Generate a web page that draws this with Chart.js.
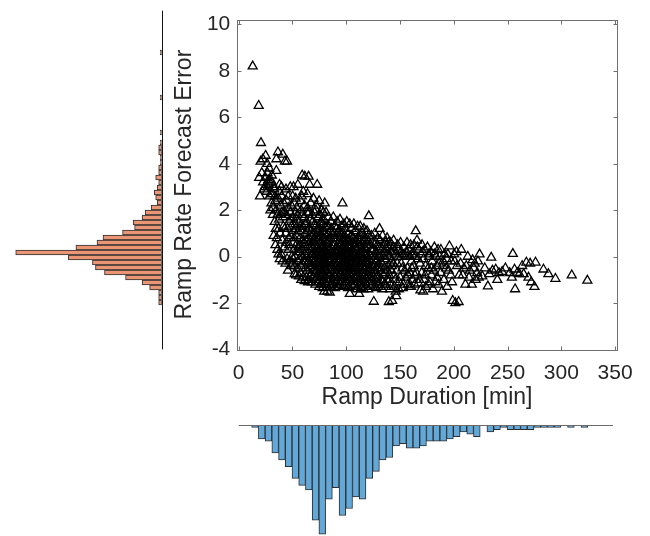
<!DOCTYPE html>
<html><head><meta charset="utf-8">
<script src="https://cdn.jsdelivr.net/npm/chart.js@4.4.1/dist/chart.umd.min.js"></script>
<style>
html,body{margin:0;padding:0;background:#fff;}
#wrap{position:relative;width:650px;height:536px;overflow:hidden;}
#wrap canvas{position:absolute;left:0;top:0;}
</style></head>
<body><div id="wrap">
<canvas id="leftHist" width="650" height="536"></canvas>
<canvas id="bottomHist" width="650" height="536"></canvas>
<canvas id="scatter" width="650" height="536"></canvas>
</div>
<script>
// ---------- data ----------
const xTicks = [0, 50, 100, 150, 200, 250, 300, 350];
const yTicks = [-4, -2, 0, 2, 4, 6, 8, 10];
const xTitle = 'Ramp Duration [min]';
const yTitle = 'Ramp Rate Forecast Error';

// scatter: [ramp duration (min), ramp rate forecast error]
const rampPoints = [
 [13,8.2],
 [18.6,6.5],[20.7,4.9],[20.4,4.1],[22.5,4.2],[19.8,2.6],[22.7,3.2],[19,3.4],
 [25,4.35],[28.4,3.8],[26.5,4.0],[27,3.0],[29,3.3],[26,2.8],[30,2.7],[28,3.1],[24.8,3.4],
 [31,3.2],[33,2.9],[35,3.7],[36.5,4.5],[35,4.2],[34,2.4],[32,2.1],[36,1.8],[33.5,1.5],[35.5,0.8],[36,0.3],[34.5,1.2],[31.5,2.7],
 [41,4.4],[43,4.1],[38,3.1],[40,2.6],[39,2.2],[42,1.9],[37.5,1.6],[41.5,1.3],[38.5,1.0],[40.5,0.7],[42.5,0.4],[39.5,0.1],[37.8,2.8],[42,2.3],[41,1.7],
 [45,4.1],[44,2.9],[48,3.0],[46,2.6],[49,2.2],[44.5,1.8],[47,1.5],[45.5,1.2],[48.5,0.9],[44,0.6],[46.5,0.3],[49.5,0.0],[47.5,-0.2],[45,-0.1],[48,1.9],[46,2.1],[49,1.3],[43.8,1.0],[47,0.5],
 [52,-0.75],[51,3.0],[53,2.5],[55,3.1],[54,2.1],[50.5,1.7],[52.5,1.4],[55.5,1.1],[51.5,0.8],[53.5,0.5],[54.5,0.2],[50.5,-0.1],[52,-0.4],[55,-0.5],[53,1.9],[51,1.1],[54,0.9],[55.5,0.4],[52.5,0.0],[50.8,0.6],[53.8,1.6],[55,-0.2],[51.8,2.3],
 [57.5,2.4],[59,3.5],[61.5,3.45],[60,2.8],[58,2.0],[61,1.7],[56.5,1.5],[59.5,1.3],[62,1.0],[57,0.8],[60.5,0.6],[58.5,0.3],[61.5,0.1],[56.5,-0.1],[59,-0.3],[62,-0.5],[57.5,-0.7],[60,-0.9],[58,1.1],[61,0.4],[59.5,0.0],[56.8,0.5],[60.8,-0.2],[58.8,1.8],[57.8,-0.4],[61.8,1.4],
 [63,-0.9],[66,3.1],[65,3.45],[64,2.7],[67,2.3],[63.5,1.9],[66.5,1.6],[62.5,1.4],[65.5,1.2],[67.5,0.9],[63,0.7],[64.5,0.5],[66,0.3],[67.8,0.1],[62.8,0.0],[65,-0.2],[67,-0.4],[63.8,-0.6],[66.5,-0.8],[64.8,-1.0],[62.5,0.2],[65.8,0.6],[67.2,1.1],[63.2,1.5],[64.2,-0.3],[66.8,-0.1],[65.2,0.8],[64,2.1],
 [73,3.1],[69.5,2.5],[72,2.2],[70.5,1.9],[74,1.7],[68.8,1.5],[71.5,1.3],[73.5,1.2],[69.8,1.0],[72.6,0.9],[70.2,0.8],[74.3,0.7],[68.6,0.6],[71.2,0.5],[73.2,0.4],[69.3,0.4],[72.3,0.3],[70.7,0.2],[74.1,0.2],[68.9,0.1],[71.8,0.1],[73.7,0.0],[70,0.0],[72.9,0.0],[69.1,-0.1],[71.4,-0.1],[74.4,-0.2],[70.4,-0.2],[72.1,-0.3],[68.7,-0.4],[73.4,-0.4],[71,-0.5],[69.6,-0.6],[72.8,-0.6],[70.9,-0.7],[74.2,-0.8],[69.2,-0.9],[71.7,-1.0],[73.9,-1.1],[70.3,0.6],[72.4,1.1],
 [74.8,2.4],[80,2.3],[77,2.0],[75.5,1.8],[79,1.6],[76.3,1.5],[78.2,1.4],[80.4,1.3],[75.2,1.2],[77.6,1.1],[79.6,1.0],[76,0.9],[78.8,0.8],[80.6,0.7],[75.8,0.6],[77.3,0.6],[79.3,0.5],[76.7,0.4],[78.5,0.4],[80.2,0.3],[75.4,0.3],[77.9,0.2],[79.8,0.2],[76.2,0.1],[78,0.1],[80.7,0.0],[75,0.0],[77.1,0.0],[79.1,0.0],[76.5,-0.1],[78.6,-0.1],[80.1,-0.2],[75.6,-0.2],[77.5,-0.3],[79.4,-0.3],[76.9,-0.4],[78.3,-0.5],[80.5,-0.6],[75.3,-0.6],[77.8,-0.7],[79.7,-0.8],[76.1,-0.9],[78.9,-1.0],[80.3,-1.1],[77.2,-1.2],[79.5,-1.5],[76.6,-0.5],
 [81.2,1.9],[83.5,1.7],[85.8,1.5],[82.3,1.3],[86.5,1.2],[84,1.0],[81.7,0.9],[85.2,0.8],[83,0.6],[86.9,0.5],[82,0.4],[84.6,0.3],[86.1,0.2],[81.4,0.1],[83.8,0.1],[85.5,0.0],[82.7,0.0],[86.7,-0.1],[84.3,-0.2],[81.9,-0.3],[85.9,-0.4],[83.2,-0.5],[86.3,-0.6],[82.5,-0.7],[84.9,-0.8],[81.1,-0.9],[85.1,-1.0],[83.6,-1.1],[86,-1.2],[82.1,-1.3],[82.4,-1.5],[84.7,-1.55],
 [88,1.7],[91.5,1.5],[89.3,1.3],[92.8,1.1],[87.6,0.9],[90.4,0.8],[93,0.6],[88.7,0.5],[91.1,0.4],[89.9,0.3],[92.3,0.2],[87.9,0.1],[90.8,0.1],[92.6,0.0],[88.4,0.0],[91.8,-0.1],[89.5,-0.2],[87.4,-0.3],[90.2,-0.4],[92.1,-0.5],[88.9,-0.6],[91.3,-0.7],[89.1,-0.8],[92.9,-0.9],[87.8,-1.0],[90.6,-1.1],[88.2,-1.2],[91.9,-1.3],
 [96.5,2.3],[94.2,1.6],[97.8,1.4],[95.5,1.3],[99,1.2],[93.8,1.1],[96.9,1.0],[98.5,0.9],[94.7,0.8],[97.2,0.7],[99.3,0.6],[95.1,0.5],[98,0.5],[93.6,0.4],[96.2,0.3],[98.8,0.3],[94.9,0.2],[97.5,0.1],[99.5,0.1],[95.8,0.0],[93.9,0.0],[97,0.0],[98.3,-0.1],[94.4,-0.1],[96.7,-0.2],[99.1,-0.3],[95.3,-0.3],[97.7,-0.4],[93.5,-0.5],[96,-0.6],[98.6,-0.7],[94.6,-0.8],[97.3,-0.9],[99.4,-1.0],[95.7,-1.1],[94.1,-1.2],[98.1,-1.3],[96.4,-0.4],[95,0.6],[97.9,-0.2],
 [100.5,1.5],[103.2,1.4],[105,1.2],[101.6,1.0],[104.3,0.9],[99.9,0.8],[102.7,0.7],[105.5,0.6],[101,0.5],[103.8,0.4],[100.3,0.3],[102.2,0.2],[104.8,0.2],[101.4,0.1],[103.5,0.0],[105.2,0.0],[100.1,0.0],[102.9,-0.1],[104.5,-0.2],[101.9,-0.3],[100.7,-0.4],[103.1,-0.5],[105.7,-0.6],[102.4,-0.7],[104,-0.8],[101.2,-0.9],[103.6,-1.0],[100,-1.1],[105.3,-1.2],[102,-1.3],[103.3,-1.6],[104.6,-0.3],[101.8,0.4],[100.9,-0.6],[104.2,0.1],[102.6,-0.2],
 [107,1.4],[110.5,1.3],[108.4,1.1],[111.6,0.9],[106.3,0.8],[109.2,0.7],[111.1,0.5],[107.6,0.4],[110,0.3],[106.8,0.2],[108.9,0.1],[111.9,0.1],[107.3,0.0],[109.7,0.0],[110.8,-0.1],[106.1,-0.2],[108.2,-0.3],[111.3,-0.4],[109.4,-0.5],[107.8,-0.6],[110.2,-0.7],[106.6,-0.8],[108.7,-0.9],[111.5,-1.0],[109.9,-1.1],[107.1,-1.2],[110.7,-1.3],[112,-1.6],[108,0.5],[109,-0.2],[106.9,-0.4],
 [113,1.3],[116.4,1.2],[114.7,1.0],[117.8,0.8],[112.6,0.7],[115.5,0.6],[117.2,0.4],[113.9,0.3],[116.1,0.2],[112.3,0.1],[114.4,0.1],[117.6,0.0],[115.1,0.0],[113.4,-0.1],[116.8,-0.1],[118.1,-0.2],[114.1,-0.3],[115.8,-0.4],[112.9,-0.5],[117,-0.6],[114.9,-0.7],[116.5,-0.8],[113.6,-0.9],[115.3,-1.0],[117.4,-1.1],[112.4,-1.2],[114.3,-1.3],[116.2,-1.4],[113.2,0.5],[115,-0.2],[117.9,-0.4],[116.6,0.4],
 [121,1.75],[119.3,1.1],[123.5,0.9],[120.4,0.7],[122.7,0.5],[118.8,0.3],[124.1,0.2],[121.6,0.1],[119.9,0.0],[123,0.0],[120.8,-0.1],[122.2,-0.2],[118.6,-0.3],[124.4,-0.4],[121.3,-0.5],[119.6,-0.6],[123.7,-0.7],[120.1,-0.8],[122.5,-0.9],[118.9,-1.0],[121.9,-1.1],[124,-1.2],[120.5,-1.4],
 [125.6,-1.94],[126.5,1.0],[129.3,0.8],[127.7,0.6],[130.4,0.4],[125.2,0.3],[128.4,0.1],[126.9,0.0],[129.9,0.0],[125.9,-0.1],[128,-0.2],[130.1,-0.3],[126.3,-0.4],[128.9,-0.5],[127.2,-0.7],[129.6,-0.8],[125.5,-0.9],[128.2,-1.1],[130.6,-1.2],[126.8,-1.3],
 [131,1.2],[133.8,0.9],[136.2,0.6],[132.4,0.4],[135,0.2],[131.7,0.0],[134.3,0.0],[136.8,-0.1],[133.1,-0.3],[135.6,-0.5],[131.9,-0.6],[134.7,-0.8],[132.8,-1.0],[136.5,-1.2],[133.5,-1.4],
 [139.6,-1.95],[142.7,-1.9],[138,0.8],[141.3,0.6],[139.2,0.4],[142.4,0.2],[137.6,0.1],[140.5,0.0],[142,-0.2],[138.7,-0.4],[141.7,-0.6],[140,-0.8],[137.9,-1.0],[141,-1.2],
 [146,-1.5],[146.5,-1.7],[144,0.7],[147.8,0.5],[145.2,0.2],[148.6,0.0],[143.8,-0.3],[147.1,-0.6],[145.6,-1.0],
 [150.5,0.6],[153.6,0.4],[152,0.1],[155,0.0],[151.2,-0.3],[154.3,-0.6],[150.1,-0.9],[153,-1.2],
 [156.5,0.6],[159.8,0.5],[158,0.3],[161.3,0.1],[157.2,0.0],[160.6,-0.2],[156.9,-0.5],[159.1,-0.7],[161.8,-1.0],[158.5,-1.3],
 [164.6,1.1],[165.8,0.7],[163,0.5],[167.5,0.3],[164,0.0],[166.7,-0.1],[162.8,-0.4],[165.2,-0.7],[167.9,-1.0],[163.6,-1.2],
 [169,-1.45],[174,-1.3],[170.5,0.5],[172.8,0.3],[169.6,0.1],[171.9,-0.1],[173.7,-0.4],[170.2,-0.7],[172.4,-1.0],
 [175.5,0.4],[178.7,0.2],[177,0.0],[180,-0.2],[176.2,-0.5],[179.3,-0.8],[177.8,-1.1],
 [182,0.4],[185.4,0.3],[183.6,0.0],[186.5,-0.3],[181.4,-0.6],[184.5,-0.9],[182.9,-1.1],
 [189,-1.5],[188,0.3],[191.5,0.1],[190.2,-0.2],[192.7,-0.5],[187.8,-0.7],[190.8,-1.0],
 [196,0.45],[199,-1.9],[194.5,0.1],[197.6,-0.2],[195.3,-0.6],[198.4,-1.1],
 [201.5,-2.0],[204.5,-1.95],[200.4,0.1],[203,-0.4],[205,-0.8],
 [207,0.3],[209.5,-0.5],[210.8,-1.2],
 [213,0.0],[217.5,-0.15],[215,-0.6],[216.8,-1.2],
 [224,0.1],[219.5,-0.3],[221.8,-0.7],[223.2,-0.9],[220.4,-1.0],
 [231.7,-1.28],[234.8,-0.04],[233,-0.75],
 [239,-0.55],[242,-0.7],
 [245,-0.65],
 [254.9,0.12],[254,-0.9],
 [257,-1.4],[259,-0.7],
 [263.6,-0.4],[265,-0.75],
 [272,-1.1],[271,-0.3],
 [275,-1.3],[276,-0.25],
 [283.4,-0.55],
 [288,-0.75],
 [294.5,-0.95],
 [309.7,-0.8],
 [324.2,-1.03],
 // further points read from the dense core of the cloud
 [40.2,1.9],[42.8,1.2],[44.6,2.4],[46.8,0.8],[48.2,1.6],[50.2,2.6],[51.3,0.3],[53.2,1.2],[54.8,1.8],[56.2,0.2],[57.3,1.3],[58.7,2.6],[59.8,0.7],[61.2,2.2],[62.3,-0.2],[63.7,1.1],[65.3,1.9],[66.2,-0.5],[67.6,0.4],[68.4,1.8],
 [69.7,-0.3],[70.8,1.4],[71.9,2.0],[72.7,-0.9],[73.8,0.8],[74.6,-0.4],[75.9,1.4],[76.8,-0.7],[77.7,0.8],[78.7,1.9],[79.9,-0.4],[81.5,0.6],[82.8,-1.0],[83.9,1.3],[84.8,-0.3],[85.6,0.4],[86.8,1.0],[87.7,-0.5],[88.8,0.8],[89.7,-0.9],
 [90.9,1.2],[91.6,0.0],[92.4,-0.3],[93.2,0.9],[94.3,-0.4],[95.4,1.0],[96.1,-0.9],[97.1,0.4],[98.2,-0.5],[99.2,0.8],[100.4,-0.8],[101.3,0.7],[102.1,-1.0],[103,0.3],[104.1,-0.5],[105.1,0.9],[106.2,-1.0],[107.2,0.6],[108.1,-0.5],[109.1,0.3],
 [110.1,-0.9],[111,0.8],[112.2,-0.3],[113.3,0.9],[114.2,-1.1],[115.2,0.3],[116.3,-0.5],[117.3,0.7],[118.4,-0.9],[119.4,0.5],[120.2,-0.3],[121.1,0.9],[122.1,-0.6],[123.2,0.3],[124.2,-1.0],[125.3,0.6],[126.1,-0.6],[127.3,0.2],[128.1,-0.9],[129.1,0.5],
 [130.2,-0.5],[131.3,0.7],[132.2,-0.2],[133.3,0.3],[134.1,-1.1],[135.3,0.5],[136.1,-0.7],[137.2,0.3],[138.3,-0.6],[139.3,0.6],[140.3,-1.0],[141.6,0.2],[142.5,-0.4],[143.5,0.4],[144.5,-0.8],[145.9,0.1],[147.4,-0.3],[148.3,0.3],[149.2,-1.1],[150.8,0.2],
 [152.3,-0.5],[153.9,0.1],[155.3,-0.9],[156.2,0.2],[157.7,-0.8],[159.4,0.0],[160.9,-0.5],[162.2,0.2],[163.8,-0.8],[166.1,0.4],[168.6,-0.3],[171.2,0.2],[173.3,-0.8],[176.8,0.1],[179.1,-0.5],[181.9,0.1],[184.2,-0.4],[186.9,0.0],[189.7,-0.4],[193.5,-0.1],
 [197.1,-0.8],[200.9,-0.2],[202.5,0.2],[206.3,-0.3],[208.4,-0.8],[211.6,-0.4],[214.2,-0.9],[218.6,-0.5],[222.5,-0.2],[226.5,-0.85],[228.8,-0.5],[236,-0.6],[240.5,-1.0],[248,-0.5],[252,-0.7],[261,-0.75],[267.5,-0.25],[269.5,-0.9],[256.5,-0.55],
 [30.5,2.3],[31.8,1.8],[32.7,3.0],[33.8,2.6],[34.9,2.0],[36.8,2.5],[37.2,1.2],[38.8,1.8],[39.8,3.0],[29.5,2.0],[28.8,2.6],[27.5,3.3],[30.8,3.5],[26.8,3.6],[25.6,3.1],[24.2,3.0],[23.5,2.9],[21.5,3.6],[32.5,0.9],[34.2,0.5],
 [37,0.1],[38.2,-0.1],[40.8,-0.2],[43.5,-0.3],[45.8,-0.6],[48.8,-0.4],[50,-0.3],[53.4,-0.8],[56,-0.85],[58.2,-1.0],[61.3,-1.05],[64.4,-1.1],[68,-1.1],[71.3,-1.2],[74.9,-1.3],[78.1,-1.35],[81.4,-1.2],[85.4,-1.3],[89.6,-1.35],[93.3,-1.3],
 [97.6,-1.25],[101.7,-1.35],[106.5,-1.3],[110.3,-1.4],[113.8,-1.35],[117.9,-1.3],[122.8,-1.3],[127.9,-1.35],[132.1,-1.3],[136.9,-1.3],[140.8,-1.4],[144.9,-1.3],[148.9,-1.4],[152.6,-1.35],[157.4,-1.2],[160.3,-1.3],[167.1,-1.15],[176.5,-1.2],[185.7,-1.2],[193.8,-1.3],
 [180.6,-1.4],[171.5,-1.5]
];

// left histogram (forecast error)
const errorBinCenters = [8.0,7.8,7.6,7.4,7.2,7.0,6.8,6.6,6.4,6.2,6.0,5.8,5.6,5.4,5.2,5.0,4.8,4.6,4.4,4.2,4.0,3.8,3.6,3.4,3.2,3.0,2.8,2.6,2.4,2.2,2.0,1.8,1.6,1.4,1.2,1.0,0.8,0.6,0.4,0.2,0.0,-0.2,-0.4,-0.6,-0.8,-1.0,-1.2,-1.4,-1.6,-1.8,-2.0];
const errorBinCounts  = [1,0,0,0,0,0,0,0,0,1,0,0,0,0,0,0,1,0,1,2,2,1,1,2,2,4,2,3,5,4,3,7,11,13,19,18,26,39,43,57,97,62,46,44,38,24,13,8,2,2,2];

// bottom histogram (ramp duration)
const durationBinCenters = [15.2,21.45,27.7,33.95,40.2,46.45,52.7,58.95,65.2,71.45,77.7,83.95,90.2,96.45,102.7,108.95,115.2,121.45,127.7,133.95,140.2,146.45,152.7,158.95,165.2,171.45,177.7,183.95,190.2,196.45,202.7,208.95,215.2,221.45,227.7,233.95,240.2,246.45,252.7,258.95,265.2,271.45,277.7,283.95,290.2,296.45,302.7,308.95,315.2,321.45];
const durationBinCounts  = [1,6,7,12,15,18,23,26,28,41,47,32,27,39,36,31,32,23,20,15,14,9,8,10,10,9,7,7,7,6,5,3,4,5,0,3,2,1,2,2,2,2,1,1,1,1,0,1,0,1];

// ---------- styling ----------
const FONT = '"Liberation Sans", Arial, Helvetica, sans-serif';
const TEXT = '#262626';
const AXIS = '#707070';
const ORANGE = '#EA9674';
const BLUE = '#62A8D8';
const EDGE = '#2e2e2e';
const X_MIN = -1.3, X_MAX = 351.5;

const common = {
  responsive: false, animation: false, events: [],
  plugins: { legend: { display: false }, tooltip: { enabled: false } }
};

// ---------- main scatter ----------
const boxPlugin = {
  id: 'box',
  afterDraw(chart) {
    const { ctx, chartArea: a, scales: { x, y } } = chart;
    const L = Math.round(a.left) + 0.5, R = Math.round(a.right) + 0.5;
    const T = Math.round(a.top) + 0.5, B = Math.round(a.bottom) + 0.5;
    ctx.save();
    ctx.strokeStyle = AXIS; ctx.lineWidth = 1;
    ctx.strokeRect(L, T, R - L, B - T);
    ctx.beginPath();
    x.ticks.forEach(t => {
      const p = Math.round(x.getPixelForValue(t.value)) + 0.5;
      ctx.moveTo(p, B); ctx.lineTo(p, B - 4);
      ctx.moveTo(p, T); ctx.lineTo(p, T + 4);
    });
    y.ticks.forEach(t => {
      const p = Math.round(y.getPixelForValue(t.value)) + 0.5;
      ctx.moveTo(L, p); ctx.lineTo(L + 4, p);
      ctx.moveTo(R, p); ctx.lineTo(R - 4, p);
    });
    ctx.stroke();
    ctx.restore();
  }
};

new Chart(document.getElementById('scatter'), {
  type: 'scatter',
  data: {
    datasets: [{
      data: rampPoints.map(p => ({ x: p[0], y: p[1] })),
      pointStyle: 'triangle', pointRadius: 5.2, pointHoverRadius: 5.2,
      pointBorderColor: '#000', pointBackgroundColor: 'rgba(0,0,0,0)', pointBorderWidth: 1.3
    }]
  },
  options: {
    ...common,
    layout: { padding: { left: 171.2, top: 6.5, right: 650 - 616.7, bottom: 536 - 349.5 - 61.8 } },
    scales: {
      x: {
        type: 'linear', min: X_MIN, max: X_MAX,
        afterBuildTicks: s => { s.ticks = xTicks.map(v => ({ value: v })); },
        afterFit: s => { s.height = 61.8; },
        grid: { display: false, drawTicks: false }, border: { display: false },
        ticks: { padding: 11, color: TEXT, font: { family: FONT, size: 21 }, maxRotation: 0, autoSkip: false },
        title: { display: true, text: xTitle, color: TEXT, font: { family: FONT, size: 23 }, padding: 0 }
      },
      y: {
        type: 'linear', min: -4, max: 10.21,
        afterBuildTicks: s => { s.ticks = yTicks.map(v => ({ value: v })); },
        afterFit: s => { s.width = 66.1; },
        grid: { display: false, drawTicks: false }, border: { display: false },
        ticks: { padding: 7, color: TEXT, font: { family: FONT, size: 21 }, autoSkip: false },
        title: { display: true, text: yTitle, color: TEXT, font: { family: FONT, size: 23 }, padding: 0 }
      }
    }
  },
  plugins: [boxPlugin]
});

// ---------- left histogram ----------
const leftLine = {
  id: 'leftLine',
  afterDatasetsDraw(chart) {
    const { ctx, chartArea: a, scales: { x } } = chart;
    const p = Math.round(x.getPixelForValue(0)) + 0.5;
    ctx.save(); ctx.strokeStyle = '#111'; ctx.lineWidth = 1;
    ctx.beginPath(); ctx.moveTo(p, a.top + 0.7); ctx.lineTo(p, a.bottom - 0.7); ctx.stroke(); ctx.restore();
  }
};
new Chart(document.getElementById('leftHist'), {
  type: 'bar',
  data: {
    datasets: [{
      data: errorBinCenters.map((c, i) => ({ y: c, x: errorBinCounts[i] })).filter(d => d.x > 0),
      backgroundColor: ORANGE, borderColor: EDGE, borderWidth: 1, borderSkipped: false,
      barPercentage: 1, categoryPercentage: 1
    }]
  },
  options: {
    ...common, indexAxis: 'y',
    layout: { padding: { left: 11.2, right: 650 - 161.7, top: 10, bottom: 536 - 350 } },
    scales: {
      x: { type: 'linear', reverse: true, min: 0, max: 100, display: false },
      y: { type: 'linear', min: -3.9, max: 9.7, offset: false, display: false }
    }
  },
  plugins: [leftLine]
});

// ---------- bottom histogram ----------
const bottomLine = {
  id: 'bottomLine',
  afterDatasetsDraw(chart) {
    const { ctx, chartArea: a, scales: { x } } = chart;
    const p = Math.round(a.top) + 0.5;
    ctx.save(); ctx.strokeStyle = '#6a6a6a'; ctx.lineWidth = 1;
    ctx.beginPath(); ctx.moveTo(x.getPixelForValue(0), p); ctx.lineTo(x.getPixelForValue(348), p); ctx.stroke(); ctx.restore();
  }
};
new Chart(document.getElementById('bottomHist'), {
  type: 'bar',
  data: {
    datasets: [{
      data: durationBinCenters.map((c, i) => ({ x: c, y: durationBinCounts[i] })).filter(d => d.y > 0),
      backgroundColor: BLUE, borderColor: EDGE, borderWidth: 1, borderSkipped: false,
      barPercentage: 1, categoryPercentage: 1
    }]
  },
  options: {
    ...common,
    layout: { padding: { left: 237.3, right: 650 - 616.7, top: 425, bottom: 1 } },
    scales: {
      x: { type: 'linear', min: X_MIN, max: X_MAX, offset: false, display: false },
      y: { type: 'linear', reverse: true, min: 0, max: 47.4, display: false }
    }
  },
  plugins: [bottomLine]
});
</script>
</body></html>
